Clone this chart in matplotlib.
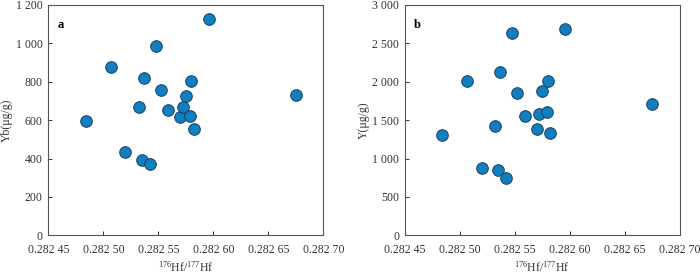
import matplotlib
matplotlib.use("Agg")
import matplotlib.pyplot as plt
from matplotlib.ticker import FuncFormatter

plt.rcParams['font.family'] = ['Liberation Serif', 'DejaVu Serif']
plt.rcParams['mathtext.fontset'] = 'custom'
plt.rcParams['mathtext.rm'] = 'Liberation Serif'
plt.rcParams['mathtext.it'] = 'Liberation Serif:italic'

# 176Hf/177Hf
hf = [0.282484, 0.282507, 0.282520, 0.282532, 0.282535, 0.282537, 0.282542,
      0.282548, 0.282552, 0.282559, 0.282570, 0.282572, 0.282575, 0.282579,
      0.282580, 0.282582, 0.282596, 0.282675]
yb = [595, 875, 434, 667, 391, 819, 370, 988, 755, 651, 618, 668, 727, 621,
      802, 554, 1125, 731]
y_ = [1311, 2006, 881, 1424, 847, 2123, 743, 2640, 1854, 1554, 1385, 1576,
      1876, 1611, 2006, 1337, 2692, 1711]

xticks = [0.28245, 0.28250, 0.28255, 0.28260, 0.28265, 0.28270]


def fmt_x(v, pos):
    s = f"{v:.5f}"
    return s[:5] + " " + s[5:]


def fmt_y(v, pos):
    s = f"{int(round(v))}"
    if len(s) > 3:
        s = s[:-3] + " " + s[-3:]
    return s


fig = plt.figure(figsize=(7, 2.73), dpi=100)
ax1 = fig.add_axes([0.069, 0.138, 0.393, 0.844])
ax2 = fig.add_axes([0.578, 0.138, 0.393, 0.844])

panels = [(ax1, yb, "Yb(μg/g)", "a", 1200, [0, 200, 400, 600, 800, 1000, 1200]),
          (ax2, y_, "Y(μg/g)", "b", 3000, [0, 500, 1000, 1500, 2000, 2500, 3000])]

for ax, vals, ylab, tag, ymax, yt in panels:
    ax.scatter(hf, vals, s=70, color="#0f7fc0", edgecolor="#1b3f63",
               linewidth=0.7, zorder=3)
    ax.set_xlim(0.28245, 0.28270)
    ax.set_ylim(0, ymax)
    ax.set_xticks(xticks)
    ax.set_yticks(yt)
    ax.xaxis.set_major_formatter(FuncFormatter(fmt_x))
    ax.yaxis.set_major_formatter(FuncFormatter(fmt_y))
    ax.tick_params(direction="in", length=3, width=0.7, labelsize=8.5,
                   colors="#333333", top=False, right=False)
    ax.tick_params(axis="x", pad=6)
    ax.tick_params(axis="y", pad=4)
    for sp in ax.spines.values():
        sp.set_color("#555555")
        sp.set_linewidth(0.8)
    ax.set_ylabel(ylab, fontsize=8.5, color="#333333", labelpad=2)
    ax.set_xlabel("$^{176}$Hf/$^{177}$Hf", fontsize=8.5, color="#333333",
                  labelpad=3)
    ax.text(0.035, 0.94, tag, transform=ax.transAxes, fontsize=9,
            fontweight="bold", va="top", ha="left")

fig.savefig("out.png", dpi=100)
